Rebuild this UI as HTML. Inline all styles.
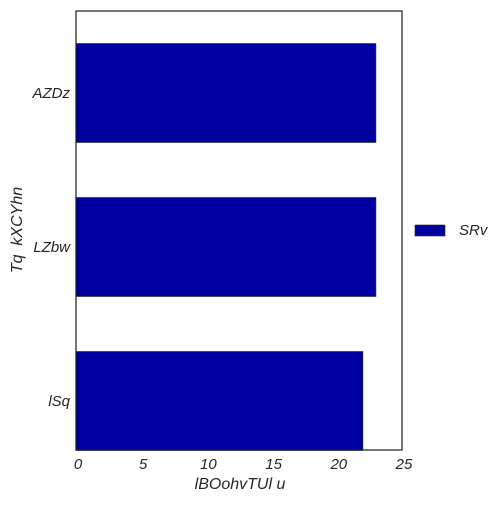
<!DOCTYPE html>
<html><head><meta charset="utf-8"><style>
body{margin:0;background:#fff;}
svg text{font-family:"Liberation Sans",sans-serif;font-style:italic;fill:#262626;white-space:pre;}
</style></head><body>
<svg id="chart" width="504" height="504" xmlns="http://www.w3.org/2000/svg">
<rect x="0" y="0" width="504" height="504" fill="#fff"/>
<g id="bars"></g>
<rect x="76" y="11" width="326" height="439" fill="none" stroke="#1a1a1a" stroke-width="1.2"/>
<g id="xticks"></g>
<g id="yticks"></g>
<text x="240" y="489" font-size="16" text-anchor="middle">lBOohvTUl u</text>
<text x="22" y="230" font-size="16" text-anchor="middle" transform="rotate(-90 22 230)">Tq  kXCYhn</text>
<g>
<rect x="415" y="225" width="30" height="11" fill="#0000a0" stroke="#262626" stroke-width="0.6"/>
<text x="459" y="235" font-size="15">SRv</text>
</g>
</svg>
<script>
const categories = ["lSq", "LZbw", "AZDz"];
const values = [22.0, 23.0, 23.0];
const xTicks = [0, 5, 10, 15, 20, 25];
const ns = "http://www.w3.org/2000/svg";
const xScale = v => 76 + v * (326 / 25);
const yCenter = i => 401 - 154 * i;
const barH = 99;
const bars = document.getElementById("bars");
categories.forEach((c, i) => {
  const r = document.createElementNS(ns, "rect");
  r.setAttribute("x", xScale(0));
  r.setAttribute("y", yCenter(i) - barH / 2);
  r.setAttribute("width", xScale(values[i]) - xScale(0));
  r.setAttribute("height", barH);
  r.setAttribute("fill", "#0000a0");
  r.setAttribute("stroke", "#262626");
  r.setAttribute("stroke-width", "0.6");
  
  
  bars.appendChild(r);
  const t = document.createElementNS(ns, "text");
  t.setAttribute("x", 70);
  t.setAttribute("y", yCenter(i) + 5);
  t.setAttribute("font-size", "15");
  t.setAttribute("text-anchor", "end");
  t.textContent = c;
  
  
  document.getElementById("yticks").appendChild(t);
});
xTicks.forEach(v => {
  const t = document.createElementNS(ns, "text");
  t.setAttribute("x", xScale(v) + 2);
  t.setAttribute("y", 469);
  t.setAttribute("font-size", "15");
  t.setAttribute("text-anchor", "middle");
  t.textContent = v;
  
  
  document.getElementById("xticks").appendChild(t);
});
</script>
</body></html>
